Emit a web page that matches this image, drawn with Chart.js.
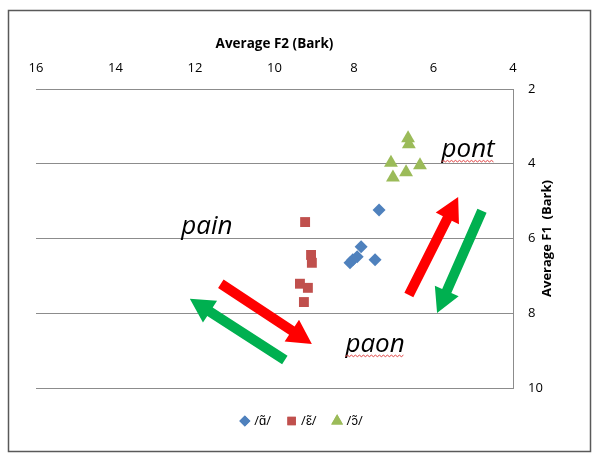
<!DOCTYPE html>
<html>
<head>
<meta charset="utf-8">
<script src="https://cdn.jsdelivr.net/npm/chart.js@4"></script>
<style>
  html, body { margin: 0; padding: 0; background: #fff; }
</style>
</head>
<body>
<canvas id="chart" width="593" height="461"></canvas>
<script>
// Valeurs (F2 en abscisse, F1 en ordonnée, en Bark)
const f2Ticks = [16, 14, 12, 10, 8, 6, 4];
const f1Ticks = [2, 4, 6, 8, 10];

const seriesNames = ['/ɑ̃/', '/ɛ̃/', '/ɔ̃/'];

const anF2 = [7.37, 7.82, 7.92, 8.1, 7.47, 8.03];
const anF1 = [5.24, 6.22, 6.49, 6.65, 6.57, 6.57];

const enF2 = [9.23, 9.08, 9.06, 9.36, 9.16, 9.26];
const enF1 = [5.56, 6.44, 6.65, 7.21, 7.32, 7.70];

const onF2 = [6.64, 6.62, 7.07, 6.34, 7.02, 6.69];
const onF1 = [3.32, 3.48, 3.97, 4.04, 4.37, 4.23];

// Annotations (mots et flèches), en unités des axes
const words = [
  { text: 'pain', f2: 11.7, f1: 5.69, squiggle: false },
  { text: 'paon', f2: 7.47, f1: 8.84, squiggle: true },
  { text: 'pont', f2: 5.13, f1: 3.63, squiggle: true }
];
const arrows = [
  { from: [6.62, 7.51], to: [5.38, 4.89], color: '#FF0000' },
  { from: [4.78, 5.26], to: [5.91, 7.99], color: '#00B050' },
  { from: [11.35, 7.21], to: [9.06, 8.82], color: '#FF0000' },
  { from: [9.74, 9.25], to: [12.13, 7.61], color: '#00B050' }
];

const toPoints = (xs, ys) => xs.map((x, i) => ({ x: x, y: ys[i] }));

const FONT = "'Open Sans', sans-serif";

function drawArrow(ctx, x1, y1, x2, y2, color) {
  const ang = Math.atan2(y2 - y1, x2 - x1);
  const len = Math.hypot(x2 - x1, y2 - y1);
  const shaft = 5, headLen = 24, headHalf = 13;
  ctx.save();
  ctx.translate(x1, y1);
  ctx.rotate(ang);
  ctx.fillStyle = color;
  ctx.beginPath();
  ctx.moveTo(0, -shaft);
  ctx.lineTo(len - headLen, -shaft);
  ctx.lineTo(len - headLen, -headHalf);
  ctx.lineTo(len, 0);
  ctx.lineTo(len - headLen, headHalf);
  ctx.lineTo(len - headLen, shaft);
  ctx.lineTo(0, shaft);
  ctx.closePath();
  ctx.fill();
  ctx.restore();
}

function drawSquiggle(ctx, x0, x1, y) {
  ctx.save();
  ctx.strokeStyle = '#E04040';
  ctx.lineWidth = 1;
  ctx.beginPath();
  let up = true;
  ctx.moveTo(x0, y);
  for (let x = x0 + 2; x <= x1; x += 2) {
    ctx.lineTo(x, up ? y - 1.5 : y);
    up = !up;
  }
  ctx.stroke();
  ctx.restore();
}

const decor = {
  id: 'decor',
  beforeDraw(chart) {
    const ctx = chart.ctx;
    ctx.save();
    ctx.fillStyle = '#fff';
    ctx.fillRect(0, 0, chart.width, chart.height);
    ctx.restore();
  },
  afterDatasetsDraw(chart) {
    const ctx = chart.ctx;
    const xs = chart.scales.x, ys = chart.scales.y;
    arrows.forEach(a => {
      drawArrow(ctx,
        xs.getPixelForValue(a.from[0]), ys.getPixelForValue(a.from[1]),
        xs.getPixelForValue(a.to[0]), ys.getPixelForValue(a.to[1]), a.color);
    });
    ctx.save();
    ctx.font = 'italic 26px ' + FONT;
    ctx.fillStyle = '#000';
    ctx.textAlign = 'center';
    ctx.textBaseline = 'middle';
    words.forEach(w => {
      const px = xs.getPixelForValue(w.f2), py = ys.getPixelForValue(w.f1);
      ctx.fillText(w.text, px, py);
      if (w.squiggle) {
        const half = ctx.measureText(w.text).width / 2;
        drawSquiggle(ctx, px - half, px + half, py + 12);
      }
    });
    ctx.restore();
  },
  afterDraw(chart) {
    const ctx = chart.ctx;
    const area = chart.chartArea;
    // titre de l'axe vertical (lu de bas en haut)
    ctx.save();
    ctx.translate(547, (area.top + area.bottom) / 2);
    ctx.rotate(-Math.PI / 2);
    ctx.font = 'bold 13px ' + FONT;
    ctx.fillStyle = '#000';
    ctx.textAlign = 'center';
    ctx.textBaseline = 'middle';
    ctx.fillText('Average F1  (Bark)', 0, 0);
    ctx.restore();

    // légende
    ctx.save();
    ctx.font = '13px ' + FONT;
    ctx.textBaseline = 'middle';
    const ly = 421, markW = 11, gapM = 4, gapI = 15;
    const items = chart.data.datasets.map(ds => ({
      label: ds.label, style: ds.pointStyle, color: ds.backgroundColor, r: ds.pointRadius
    }));
    let total = 0;
    items.forEach((it, i) => {
      it.w = ctx.measureText(it.label).width;
      total += markW + gapM + it.w + (i < items.length - 1 ? gapI : 0);
    });
    let lx = 301 - total / 2;
    items.forEach(it => {
      ctx.fillStyle = it.color;
      Chart.helpers.drawPoint(ctx, { pointStyle: it.style, radius: it.r * 0.85, rotation: 0, borderWidth: 0 }, lx + markW / 2, ly);
      ctx.fill();
      ctx.fillStyle = '#000';
      ctx.fillText(it.label, lx + markW + gapM, ly);
      lx += markW + gapM + it.w + gapI;
    });
    ctx.restore();

    // cadre extérieur
    ctx.save();
    ctx.strokeStyle = '#595959';
    ctx.lineWidth = 1.5;
    ctx.strokeRect(8.5, 10.5, 582, 441);
    ctx.restore();
  }
};

new Chart(document.getElementById('chart'), {
  type: 'scatter',
  data: {
    datasets: [
      {
        label: seriesNames[0],
        data: toPoints(anF2, anF1),
        pointStyle: 'rectRot',
        pointRadius: 6.5,
        backgroundColor: '#4F81BD',
        borderColor: '#4F81BD',
        borderWidth: 0
      },
      {
        label: seriesNames[1],
        data: toPoints(enF2, enF1),
        pointStyle: 'rect',
        pointRadius: 7,
        backgroundColor: '#C0504D',
        borderColor: '#C0504D',
        borderWidth: 0
      },
      {
        label: seriesNames[2],
        data: toPoints(onF2, onF1),
        pointStyle: 'triangle',
        pointRadius: 8,
        backgroundColor: '#9BBB59',
        borderColor: '#9BBB59',
        borderWidth: 0
      }
    ]
  },
  options: {
    responsive: false,
    animation: false,
    devicePixelRatio: 1,
    layout: { padding: { left: 36, right: 0, top: 0, bottom: 73 } },
    plugins: {
      legend: { display: false },
      tooltip: { enabled: false }
    },
    scales: {
      x: {
        type: 'linear',
        position: 'top',
        reverse: true,
        min: Math.min(...f2Ticks),
        max: Math.max(...f2Ticks),
        afterBuildTicks: s => { s.ticks = f2Ticks.map(v => ({ value: v })); },
        afterFit: s => { s.height = 89; },
        ticks: { color: '#000', font: { family: FONT, size: 13 }, padding: 13, maxRotation: 0 },
        grid: { display: false, drawTicks: false },
        border: { display: false },
        title: {
          display: true,
          text: 'Average F2 (Bark)',
          color: '#000',
          font: { family: FONT, size: 13.5, weight: 'bold' },
          padding: { top: 36, bottom: 0 }
        }
      },
      y: {
        type: 'linear',
        position: 'right',
        reverse: true,
        min: Math.min(...f1Ticks),
        max: Math.max(...f1Ticks),
        afterBuildTicks: s => { s.ticks = f1Ticks.map(v => ({ value: v })); },
        afterFit: s => { s.width = 80; },
        ticks: { color: '#000', font: { family: FONT, size: 13 }, padding: 15 },
        grid: { color: '#8C8C8C', lineWidth: 1, drawTicks: false },
        border: { display: true, color: '#8C8C8C', width: 1 }
      }
    }
  },
  plugins: [decor]
});
</script>
</body>
</html>
